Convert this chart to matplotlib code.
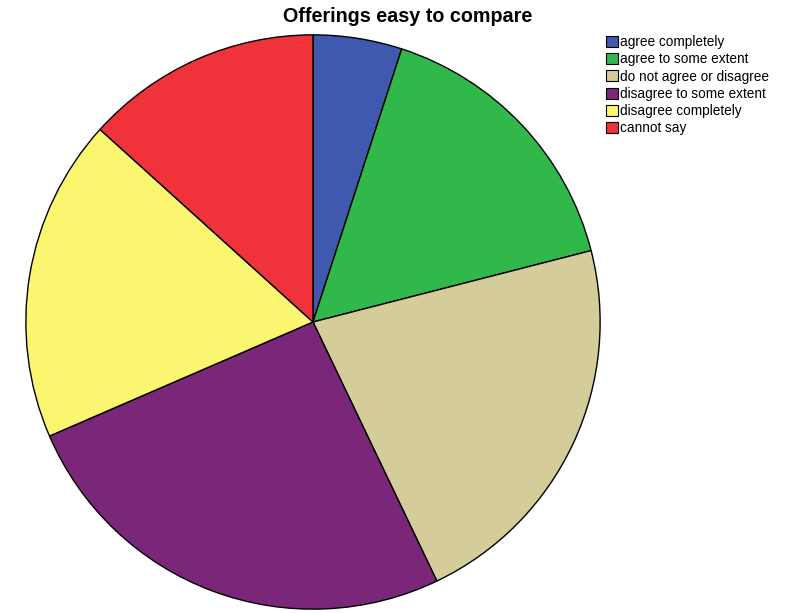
import numpy as np
import matplotlib.pyplot as plt
from matplotlib.patches import Patch

plt.rcParams['font.family'] = ['Liberation Sans', 'DejaVu Sans']

# answers to "Offerings easy to compare", share in percent
labels = ["agree completely", "agree to some extent", "do not agree or disagree",
          "disagree to some extent", "disagree completely", "cannot say"]
shares = [5.0, 16.0, 21.9, 25.6, 18.2, 13.3]
colors = ["#3e59ad", "#30b84b", "#d4cd99", "#7a2779", "#fbf66f", "#f0323b"]

W, H = 792, 613
fig = plt.figure(figsize=(W / 100, H / 100), dpi=100)
fig.patch.set_facecolor("white")

# pie centre and radius in pixels
cx, cy, r = 313, 322, 288
ax = fig.add_axes([(cx - r) / W, 1 - (cy + r) / H, 2 * r / W, 2 * r / H])
ax.pie(shares, colors=colors, startangle=90, counterclock=False, radius=1,
       wedgeprops=dict(edgecolor="black", linewidth=1.0))
ax.set_xlim(-1.003, 1.003)
ax.set_ylim(-1.003, 1.003)
ax.set_aspect("equal")
ax.axis("off")

fig.text(408 / W, 1 - 17 / H, "Offerings easy to compare", ha="center", va="center",
         fontsize=14.2, fontweight="bold")

handles = [Patch(facecolor=c, edgecolor="black", linewidth=0.8) for c in colors]
fig.legend(handles, labels, loc="upper left", bbox_to_anchor=(606 / W, 1 - 35 / H),
           frameon=False, fontsize=9.8, handlelength=0.85, handleheight=0.85,
           handletextpad=0.2, labelspacing=0.24, borderpad=0, borderaxespad=0)

fig.savefig("out.png", dpi=100)
